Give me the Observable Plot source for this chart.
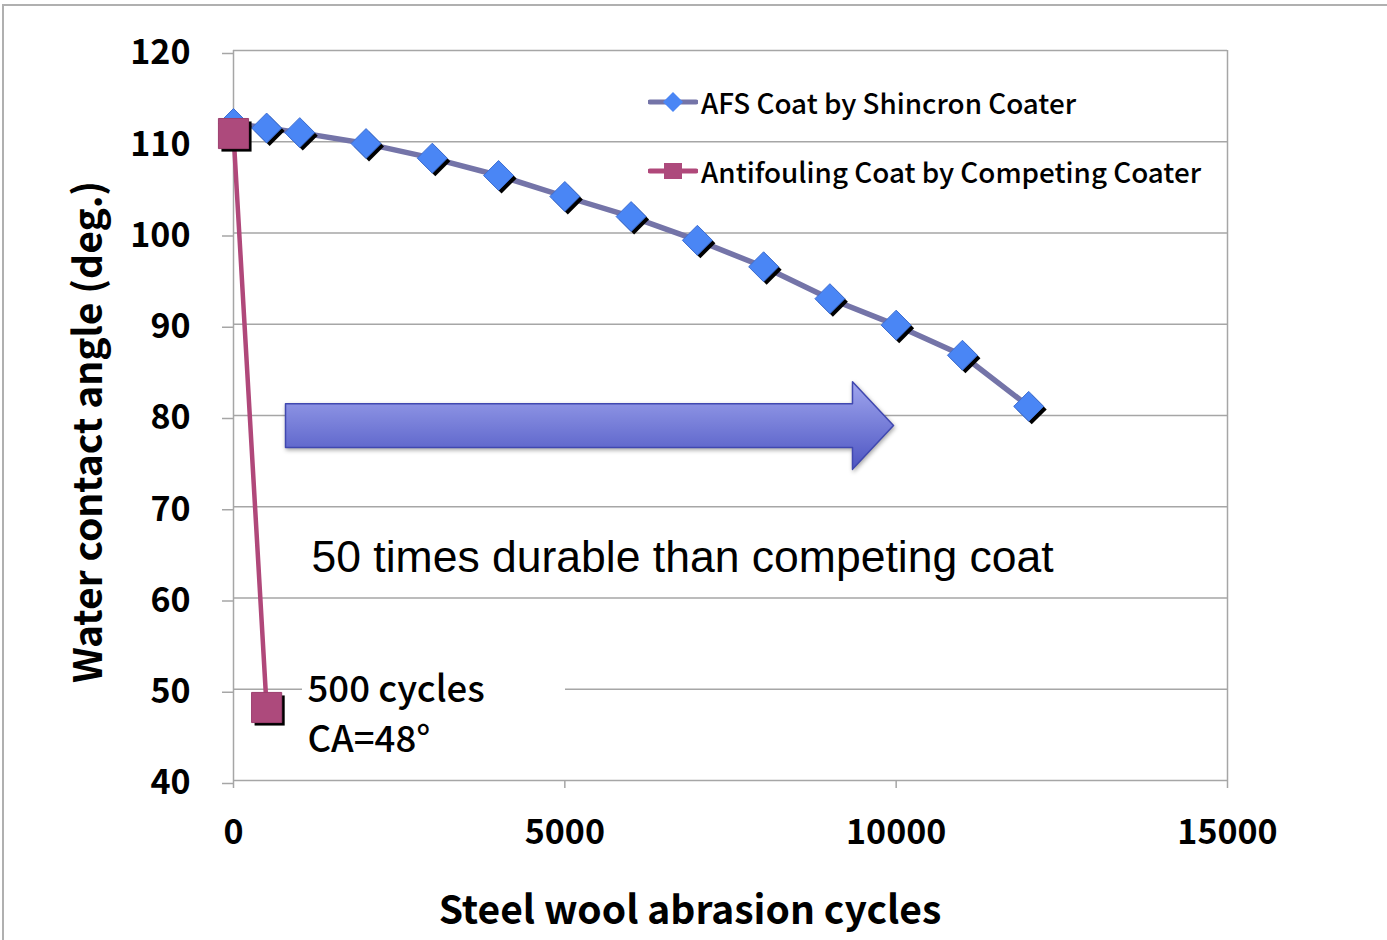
<!DOCTYPE html>
<html><head><meta charset="utf-8">
<script src="https://cdn.jsdelivr.net/npm/d3@7"></script>
<script src="https://cdn.jsdelivr.net/npm/@observablehq/plot@0.6"></script>
<style>
body{margin:0;background:#fff;width:1387px;height:940px;overflow:hidden;position:relative;font-family:"Noto Sans CJK JP",sans-serif;color:#000}
#border{position:absolute;left:2px;top:4px;width:1420px;height:1000px;border:2px solid #b0b0b0;box-sizing:border-box}
#chart{position:absolute;left:0;top:0}
.title{position:absolute;font-size:39px;font-weight:600;white-space:nowrap}
#ytitle{left:85px;top:432px;transform:translate(-50%,-50%) rotate(-90deg)}
#xtitle{left:690px;top:907px;transform:translate(-50%,-50%)}
.leg{position:absolute;left:648px;height:40px;display:flex;align-items:center;font-size:27.8px;font-weight:500;white-space:nowrap}
.leg svg{margin-right:3px}
</style></head>
<body>
<div id="border"></div>
<div id="chart"></div>
<div id="ytitle" class="title">Water contact angle (deg.)</div>
<div id="xtitle" class="title">Steel wool abrasion cycles</div>
<div class="leg" style="top:82px"><svg width="50" height="30"><line x1="2" y1="15" x2="48" y2="15" stroke="#7474a8" stroke-width="5" stroke-linecap="round"/><path d="M25,5 L35,15 L25,25 L15,15Z" fill="#4a86f5"/></svg>AFS Coat by Shincron Coater</div>
<div class="leg" style="top:151px"><svg width="50" height="30"><line x1="2" y1="15" x2="48" y2="15" stroke="#b0487a" stroke-width="5" stroke-linecap="round"/><rect x="16" y="7" width="18" height="16" fill="#ad4a7c"/></svg>Antifouling Coat by Competing Coater</div>
<script>
// ---- data ----
const afsCycles = [0, 500, 1000, 2000, 3000, 4000, 5000, 6000, 7000, 8000, 9000, 10000, 11000, 12000];
const afsAngle  = [112.0, 111.5, 111.0, 109.8, 108.2, 106.3, 104.0, 101.8, 99.2, 96.3, 92.8, 89.9, 86.6, 81.0];
const compCycles = [0, 500];
const compAngle  = [110.9, 48];
const xTicks = [0, 5000, 10000, 15000];
const yTicks = [40, 50, 60, 70, 80, 90, 100, 110, 120];
// annotation arrow outline (cycles, angle)
const arrowX = [785, 9341, 9341, 9960, 9341, 9341, 785, 785];
const arrowY = [81.3, 81.3, 83.7, 78.9, 74.1, 76.5, 76.5, 81.3];
const noteText = "50 times durable than competing coat";
const calloutText = "500 cycles\nCA=48°";

const afs = afsCycles.map((c, i) => ({c, a: afsAngle[i]}));
const comp = compCycles.map((c, i) => ({c, a: compAngle[i]}));
const arrow = arrowX.map((x, i) => ({x, y: arrowY[i]}));

const grid = "#a6a6a6";
const chart = Plot.plot({
  width: 1387, height: 940,
  marginLeft: 233, marginRight: 160, marginTop: 50, marginBottom: 160,
  x: {domain: [0, 15000]},
  y: {domain: [40, 120]},
  style: {fontFamily: "'Noto Sans CJK JP', sans-serif", fontSize: "33px", fontWeight: 600, color: "#000", background: "transparent", overflow: "visible"},
  marks: [
    Plot.gridY(yTicks, {stroke: grid, strokeOpacity: 1, strokeWidth: 1.5}),
    Plot.ruleX([0, 15000], {stroke: grid, strokeWidth: 1.5}),
    Plot.axisY(yTicks, {tickSize: 11, tickPadding: 32, stroke: grid, strokeWidth: 1.5, label: null, fontSize: 34, fontWeight: 600, dy: 3}),
    Plot.axisX(xTicks, {tickSize: 8, tickPadding: 31, stroke: grid, strokeWidth: 1.5, label: null, fontSize: 34, fontWeight: 600, tickFormat: d => String(d)}),
    Plot.rect([{x1: 1041, x2: 5010, y1: 44.5, y2: 53}], {x1: "x1", x2: "x2", y1: "y1", y2: "y2", fill: "white"}),
    Plot.line(arrow, {x: "x", y: "y", fill: "#123456", stroke: "#4048b0", strokeWidth: 1.5, curve: "linear"}),
    Plot.line(afs, {x: "c", y: "a", stroke: "#7474a8", strokeWidth: 5.5}),
    Plot.dot(afs, {x: "c", y: "a", symbol: "diamond2", r: 13.5, fill: "black", dx: 3, dy: 3}),
    Plot.dot(afs, {x: "c", y: "a", symbol: "diamond2", r: 13.5, fill: "#4a86f5", stroke: "#3f6fd2", strokeWidth: 1}),
    Plot.line(comp, {x: "c", y: "a", stroke: "#b0487a", strokeWidth: 4.5}),
    Plot.dot(comp, {x: "c", y: "a", symbol: "square", r: 17, fill: "black", dx: 3, dy: 3}),
    Plot.dot(comp, {x: "c", y: "a", symbol: "square", r: 17, fill: "#ad4a7c", stroke: "#9c3f6e", strokeWidth: 1}),
    Plot.text([noteText], {x: 1177, y: 64.4, text: d => d, textAnchor: "start", fontSize: 44.5, fontWeight: 400, fontFamily: "'Liberation Sans', Arial, sans-serif"}),
    Plot.text([calloutText], {x: 1117, y: 52.4, text: d => d, textAnchor: "start", lineAnchor: "top", lineHeight: 1.35, fontSize: 36.5, fontWeight: 500})
  ]
});
document.getElementById("chart").appendChild(chart);

// gradient for the arrow
const svg = d3.select(chart);
const defs = svg.insert("defs", ":first-child");
const g = defs.append("linearGradient").attr("id", "arrowGrad").attr("x1", 0).attr("y1", 0).attr("x2", 0).attr("y2", 1);
g.append("stop").attr("offset", "0%").attr("stop-color", "#a0a6ee");
g.append("stop").attr("offset", "100%").attr("stop-color", "#4d55c2");
svg.selectAll("*").filter(function(){return (this.getAttribute("fill")||"").toLowerCase()==="#123456";})
  .attr("fill","url(#arrowGrad)").style("filter", "drop-shadow(1px 2px 2px rgba(0,0,0,0.35))");
</script>
</body></html>
